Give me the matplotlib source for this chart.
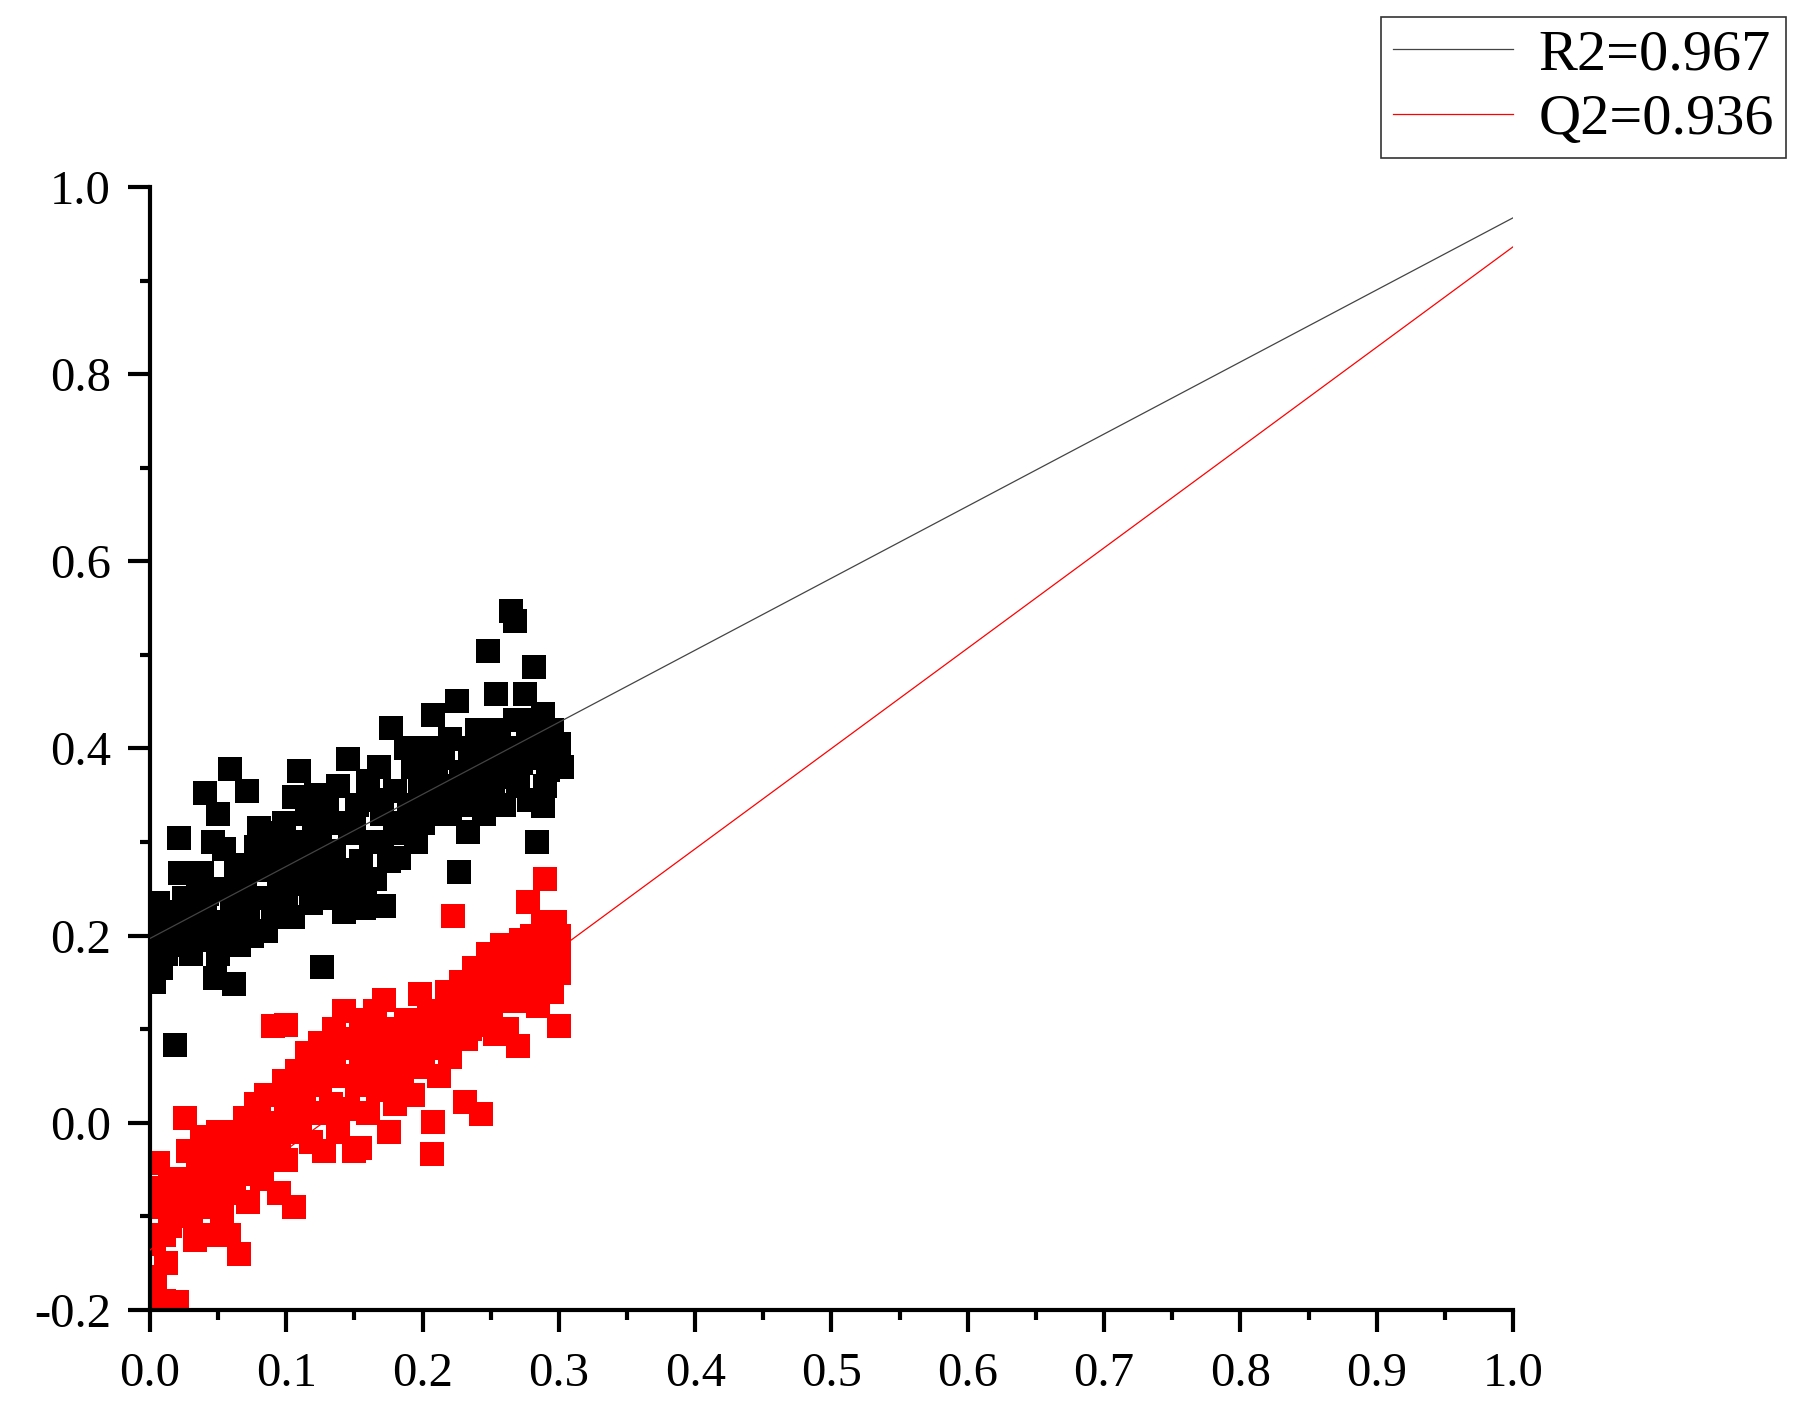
import numpy as np
import matplotlib
matplotlib.use("Agg")
import matplotlib.pyplot as plt
from matplotlib.ticker import MultipleLocator, FormatStrFormatter

plt.rcParams['font.family'] = ['Liberation Serif', 'DejaVu Serif']

# training set (black)
black_x = [0.003, 0.008, 0.005, 0.010, 0.006, 0.015, 0.012, 0.018, 0.021, 0.022,
           0.025, 0.028, 0.030, 0.035, 0.038, 0.040, 0.040, 0.045, 0.046, 0.048,
           0.050, 0.052, 0.054, 0.055, 0.059, 0.060, 0.062, 0.065, 0.068, 0.071,
           0.072, 0.075, 0.078, 0.080, 0.082, 0.085, 0.088, 0.090, 0.093, 0.095,
           0.098, 0.100, 0.103, 0.106, 0.109, 0.110, 0.112, 0.115, 0.118, 0.120,
           0.122, 0.125, 0.126, 0.128, 0.130, 0.133, 0.135, 0.138, 0.140, 0.142,
           0.145, 0.147, 0.150, 0.152, 0.155, 0.157, 0.160, 0.162, 0.165, 0.168,
           0.170, 0.172, 0.175, 0.177, 0.180, 0.183, 0.185, 0.188, 0.190, 0.193,
           0.195, 0.198, 0.200, 0.203, 0.205, 0.208, 0.210, 0.213, 0.215, 0.218,
           0.220, 0.225, 0.227, 0.228, 0.230, 0.233, 0.235, 0.238, 0.240, 0.243,
           0.245, 0.248, 0.250, 0.252, 0.254, 0.256, 0.258, 0.260, 0.263, 0.265,
           0.268, 0.268, 0.270, 0.272, 0.275, 0.277, 0.278, 0.280, 0.282, 0.284,
           0.285, 0.288, 0.288, 0.290, 0.292, 0.295, 0.300, 0.302,
           0.012, 0.020, 0.025, 0.032, 0.035, 0.042, 0.050, 0.058, 0.063, 0.070,
           0.075, 0.085, 0.090, 0.095, 0.105, 0.108, 0.115, 0.120, 0.130, 0.137,
           0.145, 0.150, 0.158, 0.165, 0.170, 0.180, 0.190, 0.200, 0.210, 0.220,
           0.225, 0.240, 0.248, 0.258, 0.265, 0.280, 0.295, 0.275, 0.213, 0.195]
black_y = [0.150, 0.165, 0.190, 0.215, 0.235, 0.225, 0.180, 0.083, 0.304, 0.267,
           0.240, 0.205, 0.180, 0.260, 0.267, 0.352, 0.225, 0.200, 0.300, 0.155,
           0.330, 0.250, 0.293, 0.215, 0.378, 0.240, 0.148, 0.190, 0.260, 0.355,
           0.225, 0.200, 0.295, 0.315, 0.270, 0.240, 0.310, 0.220, 0.290, 0.260,
           0.320, 0.240, 0.275, 0.348, 0.376, 0.300, 0.255, 0.330, 0.235, 0.285,
           0.350, 0.310, 0.167, 0.260, 0.335, 0.240, 0.290, 0.360, 0.265, 0.225,
           0.389, 0.310, 0.250, 0.340, 0.280, 0.230, 0.365, 0.300, 0.260, 0.380,
           0.330, 0.232, 0.280, 0.422, 0.355, 0.283, 0.310, 0.400, 0.340, 0.380,
           0.300, 0.360, 0.320, 0.395, 0.345, 0.436, 0.370, 0.330, 0.390, 0.355,
           0.410, 0.451, 0.268, 0.375, 0.340, 0.311, 0.400, 0.355, 0.420, 0.380,
           0.330, 0.504, 0.395, 0.350, 0.458, 0.420, 0.370, 0.340, 0.400, 0.547,
           0.536, 0.430, 0.360, 0.385, 0.458, 0.410, 0.345, 0.430, 0.487, 0.300,
           0.390, 0.437, 0.339, 0.360, 0.377, 0.420, 0.405, 0.380,
           0.200, 0.190, 0.215, 0.240, 0.195, 0.245, 0.180, 0.205, 0.275, 0.245,
           0.275, 0.205, 0.270, 0.300, 0.220, 0.260, 0.280, 0.325, 0.275, 0.320,
           0.270, 0.320, 0.255, 0.345, 0.300, 0.320, 0.320, 0.350, 0.345, 0.330,
           0.360, 0.350, 0.365, 0.395, 0.375, 0.390, 0.395, 0.430, 0.400, 0.400]

# test set (red)
red_x = [0.002, 0.010, 0.020, 0.004, 0.012, 0.003, 0.006, 0.005, 0.008, 0.015,
         0.018, 0.022, 0.026, 0.028, 0.030, 0.033, 0.035, 0.038, 0.040, 0.043,
         0.045, 0.048, 0.050, 0.053, 0.055, 0.058, 0.060, 0.062, 0.065, 0.067,
         0.070, 0.072, 0.075, 0.078, 0.080, 0.082, 0.085, 0.088, 0.090, 0.092,
         0.095, 0.098, 0.100, 0.100, 0.103, 0.106, 0.108, 0.110, 0.113, 0.115,
         0.118, 0.120, 0.123, 0.125, 0.128, 0.130, 0.133, 0.135, 0.138, 0.140,
         0.142, 0.145, 0.148, 0.150, 0.152, 0.154, 0.155, 0.158, 0.160, 0.163,
         0.165, 0.167, 0.170, 0.172, 0.175, 0.175, 0.178, 0.180, 0.183, 0.185,
         0.188, 0.190, 0.193, 0.195, 0.198, 0.200, 0.203, 0.205, 0.207, 0.208,
         0.210, 0.212, 0.215, 0.218, 0.220, 0.222, 0.225, 0.228, 0.231, 0.232,
         0.235, 0.238, 0.240, 0.243, 0.245, 0.248, 0.250, 0.253, 0.255, 0.258,
         0.260, 0.262, 0.265, 0.268, 0.270, 0.272, 0.275, 0.277, 0.278, 0.280,
         0.283, 0.285, 0.288, 0.290, 0.290, 0.293, 0.295, 0.298, 0.300, 0.300,
         0.010, 0.015, 0.020, 0.025, 0.030, 0.035, 0.040, 0.045, 0.050, 0.055,
         0.060, 0.065, 0.070, 0.075, 0.080, 0.085, 0.090, 0.095, 0.100, 0.105,
         0.110, 0.115, 0.120, 0.125, 0.130, 0.135, 0.140, 0.145, 0.150, 0.155,
         0.160, 0.165, 0.170, 0.180, 0.185, 0.190, 0.195, 0.200, 0.205, 0.210,
         0.220, 0.225, 0.230, 0.235, 0.240, 0.245, 0.250, 0.255, 0.260, 0.265,
         0.270, 0.275, 0.280, 0.285, 0.290, 0.295, 0.300, 0.297, 0.300, 0.285]
red_y = [-0.195, -0.190, -0.192, -0.165, -0.150, -0.130, -0.043, -0.090, -0.070, -0.110,
         -0.080, -0.060, 0.005, -0.030, -0.100, -0.125, -0.050, -0.015, -0.080, -0.120,
         -0.030, -0.060, -0.010, -0.095, -0.040, -0.120, -0.015, -0.065, -0.140, -0.030,
         0.005, -0.085, -0.045, 0.020, -0.010, -0.060, 0.030, -0.030, 0.103, 0.000,
         -0.075, 0.045, 0.105, -0.040, 0.020, -0.090, 0.055, -0.010, 0.030, 0.075,
         -0.020, 0.045, 0.010, 0.085, -0.030, 0.060, 0.020, 0.100, -0.010, 0.050,
         0.120, 0.015, 0.080, -0.030, 0.040, -0.027, 0.110, 0.060, 0.010, 0.090,
         0.120, 0.035, 0.070, 0.131, -0.010, 0.050, 0.100, 0.020, 0.080, 0.045,
         0.110, 0.065, 0.030, 0.095, 0.138, 0.060, 0.110, 0.080, -0.033, 0.001,
         0.120, 0.050, 0.090, 0.140, 0.070, 0.221, 0.110, 0.150, 0.022, 0.090,
         0.130, 0.165, 0.105, 0.009, 0.150, 0.180, 0.125, 0.095, 0.165, 0.190,
         0.140, 0.100, 0.175, 0.150, 0.082, 0.195, 0.130, 0.236, 0.165, 0.200,
         0.145, 0.180, 0.215, 0.261, 0.160, 0.195, 0.140, 0.175, 0.103, 0.200,
         -0.120, -0.060, -0.100, -0.080, -0.060, -0.090, -0.040, -0.070, -0.040, -0.075,
         -0.045, -0.010, -0.055, -0.020, 0.010, -0.040, 0.030, -0.015, 0.010, 0.040,
         0.020, 0.010, 0.070, 0.040, 0.010, 0.060, 0.080, 0.050, 0.090, 0.070,
         0.040, 0.080, 0.100, 0.060, 0.090, 0.100, 0.070, 0.090, 0.120, 0.080,
         0.100, 0.130, 0.120, 0.100, 0.140, 0.120, 0.160, 0.140, 0.170, 0.130,
         0.160, 0.180, 0.150, 0.200, 0.180, 0.160, 0.180, 0.215, 0.160, 0.125]

# fitted lines: y at x=0 and x=1
fit_x = [0.0, 1.0]
r2_line = [0.197, 0.967]
q2_line = [-0.136, 0.936]

fig = plt.figure(figsize=(18.07, 14.11), dpi=100)
ax = fig.add_axes([0.083, 0.0716, 0.7543, 0.7959])

ax.scatter(black_x, black_y, marker='s', s=310, c='black', linewidths=0, zorder=2)
ax.scatter(red_x, red_y, marker='s', s=310, c='#ff0000', linewidths=0, zorder=2)
ax.plot(fit_x, r2_line, color='#444444', lw=0.9, label='R2=0.967', zorder=3)
ax.plot(fit_x, q2_line, color='#ff0000', lw=0.9, label='Q2=0.936', zorder=3)

ax.set_xlim(0, 1.0)
ax.set_ylim(-0.2, 1.0)
ax.spines['top'].set_visible(False)
ax.spines['right'].set_visible(False)
for s in ['left', 'bottom']:
    ax.spines[s].set_linewidth(3)

ax.xaxis.set_major_locator(MultipleLocator(0.1))
ax.xaxis.set_minor_locator(MultipleLocator(0.05))
ax.yaxis.set_major_locator(MultipleLocator(0.2))
ax.yaxis.set_minor_locator(MultipleLocator(0.1))
ax.xaxis.set_major_formatter(FormatStrFormatter('%.1f'))
ax.yaxis.set_major_formatter(FormatStrFormatter('%.1f'))

ax.tick_params(which='major', direction='out', length=16, width=3, labelsize=35)
ax.tick_params(which='minor', direction='out', length=7, width=3)
ax.tick_params(axis='x', which='major', pad=14)
ax.tick_params(axis='y', which='major', pad=12)

leg = fig.legend(loc='upper right', bbox_to_anchor=(0.9884, 0.988), fontsize=42,
                 frameon=True, fancybox=False, edgecolor='black', handlelength=2.05,
                 handletextpad=0.45, borderaxespad=0, borderpad=0.2, labelspacing=0.2)
leg.get_frame().set_linewidth(1.2)

fig.savefig('out.png', dpi=100)
